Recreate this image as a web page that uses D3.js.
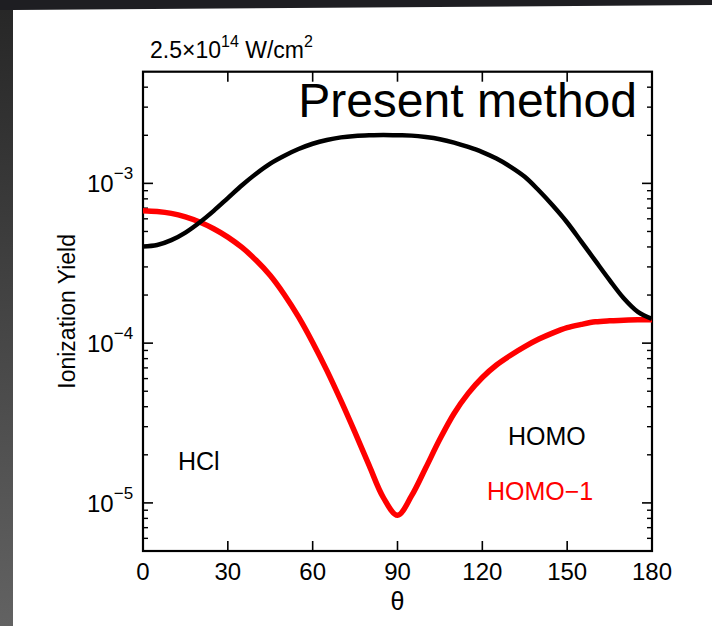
<!DOCTYPE html>
<html>
<head>
<meta charset="utf-8">
<script src="https://cdn.jsdelivr.net/npm/d3@7"></script>
<style>
  body { margin: 0; background: #ffffff; }
  svg { display: block; }
  text { font-family: "Liberation Sans", Arial, Helvetica, sans-serif; }
</style>
</head>
<body>
<svg id="chart" width="712" height="626"></svg>
<script>
// angle between molecular axis and laser polarisation (degrees)
var theta = [0, 5, 10, 15, 20, 25, 30, 35, 40, 45, 50, 55, 60, 65, 70, 75, 80, 85, 90,
             95, 100, 105, 110, 115, 120, 125, 130, 135, 140, 145, 150, 155, 160, 165, 170, 175, 180];

// HOMO ionization yield (black)
var homo = [4.02e-4, 4.11e-4, 4.41e-4, 4.92e-4, 5.69e-4, 6.73e-4, 8.09e-4, 9.73e-4, 1.15e-3, 1.33e-3,
            1.49e-3, 1.64e-3, 1.77e-3, 1.87e-3, 1.94e-3, 1.98e-3, 2.00e-3, 2.01e-3, 2.00e-3,
            1.99e-3, 1.95e-3, 1.89e-3, 1.80e-3, 1.69e-3, 1.57e-3, 1.43e-3, 1.27e-3, 1.10e-3,
            9.02e-4, 7.24e-4, 5.69e-4, 4.32e-4, 3.27e-4, 2.48e-4, 1.91e-4, 1.57e-4, 1.42e-4];

// HOMO-1 ionization yield (red)
var homo1 = [6.75e-4, 6.67e-4, 6.49e-4, 6.17e-4, 5.73e-4, 5.20e-4, 4.61e-4, 3.97e-4, 3.30e-4, 2.65e-4,
             2.01e-4, 1.46e-4, 1.01e-4, 6.75e-5, 4.36e-5, 2.75e-5, 1.71e-5, 1.08e-5, 8.36e-6,
             1.11e-5, 1.66e-5, 2.51e-5, 3.63e-5, 4.85e-5, 6.10e-5, 7.30e-5, 8.40e-5, 9.51e-5,
             1.06e-4, 1.16e-4, 1.25e-4, 1.31e-4, 1.36e-4, 1.38e-4, 1.39e-4, 1.40e-4, 1.40e-4];

var xTicks = [0, 30, 60, 90, 120, 150, 180];
var yDecades = [-5, -4, -3];

function drawChart() {
    let svg = d3.select("#chart");

    // slide frame: dark strip on the left and along the top
    let defs = svg.append("defs");
    let grad = defs.append("linearGradient")
        .attr("id", "frameGrad")
        .attr("x1", 0).attr("y1", 0).attr("x2", 0).attr("y2", 1);
    grad.append("stop").attr("offset", "0%").attr("stop-color", "#262626");
    grad.append("stop").attr("offset", "100%").attr("stop-color", "#626262");

    svg.append("rect").attr("x", 0).attr("y", 0).attr("width", 13).attr("height", 626)
        .attr("fill", "url(#frameGrad)");
    svg.append("polygon")
        .attr("points", "0,0 712,0 712,5 13,10 0,10")
        .attr("fill", "#1e1e22");

    let left = 143, right = 652, top = 71.7, bottom = 551;

    let x = d3.scaleLinear().domain([0, 180]).range([left, right]);
    let y = d3.scaleLog().domain([5e-6, 5e-3]).range([bottom, top]);

    // minor ticks 2..9 x 10^k inside the domain
    let minor = [];
    for (let k = -6; k <= -3; k++) {
        for (let m = 2; m <= 9; m++) {
            let v = m * Math.pow(10, k);
            if (v > 5e-6 && v < 5e-3) minor.push(v);
        }
    }
    let major = yDecades.map(d => Math.pow(10, d));

    let axes = svg.append("g").attr("stroke", "#000").attr("fill", "none");

    // ticks on left / right
    major.forEach(v => {
        axes.append("line").attr("x1", left).attr("x2", left + 10).attr("y1", y(v)).attr("y2", y(v)).attr("stroke-width", 1.6);
        axes.append("line").attr("x1", right).attr("x2", right - 10).attr("y1", y(v)).attr("y2", y(v)).attr("stroke-width", 1.6);
    });
    minor.forEach(v => {
        axes.append("line").attr("x1", left).attr("x2", left + 5).attr("y1", y(v)).attr("y2", y(v)).attr("stroke-width", 1.4);
        axes.append("line").attr("x1", right).attr("x2", right - 5).attr("y1", y(v)).attr("y2", y(v)).attr("stroke-width", 1.4);
    });

    // ticks on bottom / top
    xTicks.forEach(t => {
        axes.append("line").attr("x1", x(t)).attr("x2", x(t)).attr("y1", bottom).attr("y2", bottom - 10).attr("stroke-width", 1.6);
        axes.append("line").attr("x1", x(t)).attr("x2", x(t)).attr("y1", top).attr("y2", top + 10).attr("stroke-width", 1.6);
    });

    // box
    axes.append("rect")
        .attr("x", left).attr("y", top)
        .attr("width", right - left).attr("height", bottom - top)
        .attr("stroke-width", 2.2);

    // curves
    let line = d3.line()
        .x((d, i) => x(theta[i]))
        .y(d => y(d))
        .curve(d3.curveCatmullRom.alpha(0.5));

    svg.append("path").datum(homo1)
        .attr("d", line)
        .attr("fill", "none")
        .attr("stroke", "#ff0000")
        .attr("stroke-width", 5.5)
        .attr("stroke-linejoin", "round");

    svg.append("path").datum(homo)
        .attr("d", line)
        .attr("fill", "none")
        .attr("stroke", "#000000")
        .attr("stroke-width", 4.5)
        .attr("stroke-linejoin", "round");

    // x tick labels
    svg.append("g").selectAll("text").data(xTicks).join("text")
        .attr("x", d => x(d))
        .attr("y", 580)
        .attr("text-anchor", "middle")
        .attr("font-size", 24)
        .text(d => d);

    // y tick labels 10^k
    let yl = svg.append("g").selectAll("text").data(yDecades).join("text")
        .attr("x", 87)
        .attr("y", d => y(Math.pow(10, d)) + 9)
        .attr("font-size", 24);
    yl.append("tspan").text("10");
    yl.append("tspan").attr("font-size", 17).attr("dy", -13).text(d => "\u2212" + Math.abs(d));

    // axis titles
    svg.append("text")
        .attr("x", x(90)).attr("y", 610)
        .attr("text-anchor", "middle")
        .attr("font-family", "'Liberation Serif', 'DejaVu Serif', serif")
        .attr("font-size", 25)
        .text("\u03b8");

    svg.append("text")
        .attr("transform", "translate(75," + ((top + bottom) / 2) + ") rotate(-90)")
        .attr("text-anchor", "middle")
        .attr("font-size", 23)
        .text("Ionization Yield");

    // intensity above the box
    let hdr = svg.append("text").attr("x", 150).attr("y", 58).attr("font-size", 23);
    hdr.append("tspan").text("2.5\u00d710");
    hdr.append("tspan").attr("font-size", 16).attr("dy", -11).text("14");
    hdr.append("tspan").attr("dy", 11).text(" W/cm");
    hdr.append("tspan").attr("font-size", 16).attr("dy", -11).text("2");

    svg.append("text")
        .attr("x", 637).attr("y", 117)
        .attr("text-anchor", "end")
        .attr("font-size", 48)
        .text("Present method");

    // in-plot labels
    svg.append("text").attr("x", 178).attr("y", 470).attr("font-size", 25).text("HCl");
    svg.append("text").attr("x", 508).attr("y", 445).attr("font-size", 25).text("HOMO");
    svg.append("text").attr("x", 487).attr("y", 500).attr("font-size", 25).attr("fill", "#ff0000").text("HOMO\u22121");
}

drawChart();
</script>
</body>
</html>
